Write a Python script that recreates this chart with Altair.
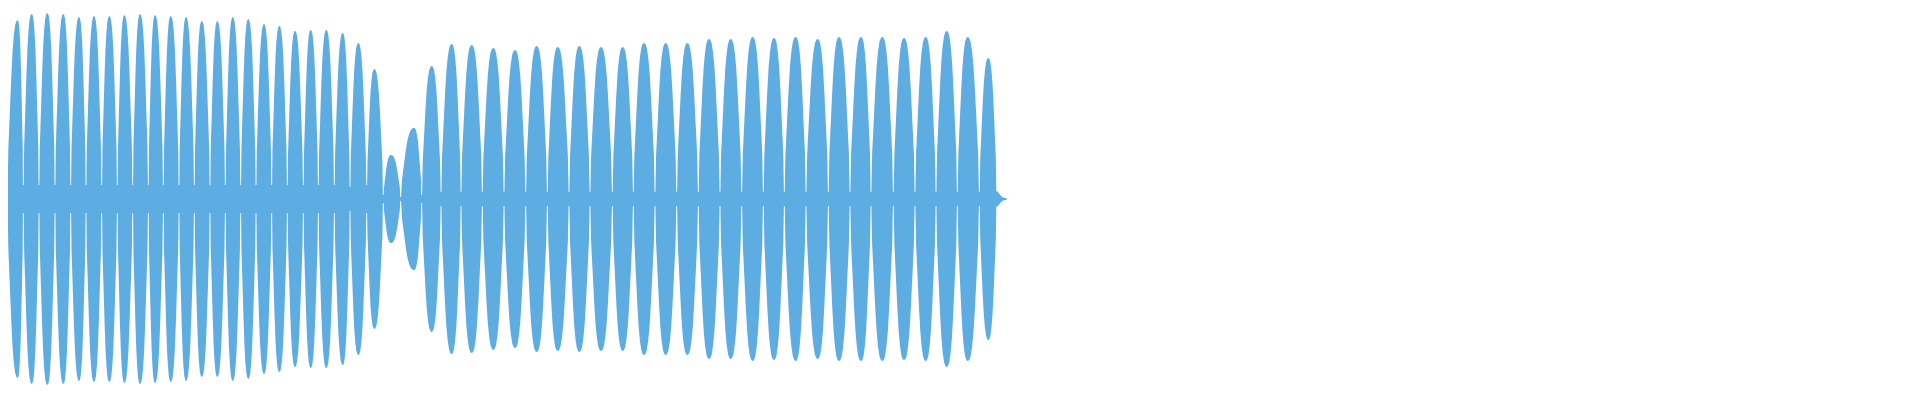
import altair as alt
import pandas as pd

# Lobe boundaries (gaps) along the time axis
gap_x = [0, 7.3, 23.3, 39, 55, 70.7, 86, 101.7, 117.3, 132.7, 148.3, 163.3, 179,
         194.3, 210, 225.3, 240.7, 256, 271.7, 287.3, 303.3, 318.3, 334.3, 350,
         366.7, 383.3, 400.7, 421.7, 441, 461, 482.3, 504, 525.7, 547.3, 569, 590,
         612.3, 633.3, 655, 676.7, 698.3, 720, 741.7, 763.3, 784.3, 806, 828.3, 850,
         871, 893.3, 915, 936, 957.3, 979.3, 996.7]
# Envelope depth at each gap
gap_core = [25] + [14] * 22 + [12, 14, 4, 2, 4] + [7] * 27 + [8]

# Lobe peaks: position and amplitude
peak_x = [2.7, 17.7, 31.7, 47.3, 63.3, 79, 94, 109.3, 124.3, 140, 155, 170.7, 186,
          201.7, 217.3, 232.7, 248.3, 264, 279.3, 295, 310.7, 326.3, 342.7, 358.3,
          374.3, 391, 414, 431.7, 451.7, 471.7, 493.3, 515, 536.7, 557.7, 579.3, 601,
          622.7, 644, 665.7, 687.3, 709, 730.7, 752.7, 774, 795.7, 817.7, 839, 861,
          882.3, 904, 925.7, 946.7, 967.7, 988.3]
peak_amp = [196, 179, 185, 186, 185, 182, 183, 183, 184, 185, 184, 183, 182,
            178, 178, 182, 180, 175, 173, 168, 169, 169, 166, 156,
            130, 44, 71, 133, 155, 154, 151, 149, 153, 152, 153, 152,
            152, 156, 156, 156, 160, 160, 162, 161, 162, 160, 162, 162,
            162, 161, 162, 168, 162, 141]

# Shape of one lobe (relative distance from peak -> relative height)
profile_u = [0.12, 0.25, 0.38, 0.5, 0.62, 0.76, 0.9]
profile_p = [0.995, 0.97, 0.91, 0.82, 0.68, 0.48, 0.28]

# Decaying tail after the last lobe
tail_x = [996.7, 998, 999.5, 1001, 1003, 1006.7]
tail_amp = [8, 7, 5, 3, 1.5, 0.8]

NOTCH = 0.4
xs, vs = [], []


def add(x, v):
    xs.append(x)
    vs.append(v)


add(gap_x[0], gap_core[0])
for i in range(len(peak_x)):
    gl, gr, xp, amp = gap_x[i], gap_x[i + 1], peak_x[i], peak_amp[i]
    if i > 0:
        add(gl + NOTCH, gap_core[i])
    for u, p in zip(reversed(profile_u), reversed(profile_p)):
        add(xp - (xp - gl) * u, amp * p)
    add(xp, amp)
    for u, p in zip(profile_u, profile_p):
        add(xp + (gr - xp) * u, amp * p)
    add(gr - NOTCH, gap_core[i + 1])
for x, v in zip(tail_x, tail_amp):
    add(x, v)

df = pd.DataFrame({"x": xs, "top": vs, "bottom": [-v for v in vs]})

chart = (
    alt.Chart(df)
    .mark_area(color="#5DADE2", opacity=1, clip=True, interpolate="linear")
    .encode(
        x=alt.X("x:Q", scale=alt.Scale(domain=[8, 1912], nice=False, zero=False), axis=None),
        y=alt.Y("top:Q", scale=alt.Scale(domain=[-193, 191], nice=False, zero=False), axis=None),
        y2="bottom:Q",
    )
    .properties(width=1904, height=384, padding=0)
    .configure_view(stroke=None)
)

chart.save("out.html", embed_options={"renderer": "svg", "actions": False})
